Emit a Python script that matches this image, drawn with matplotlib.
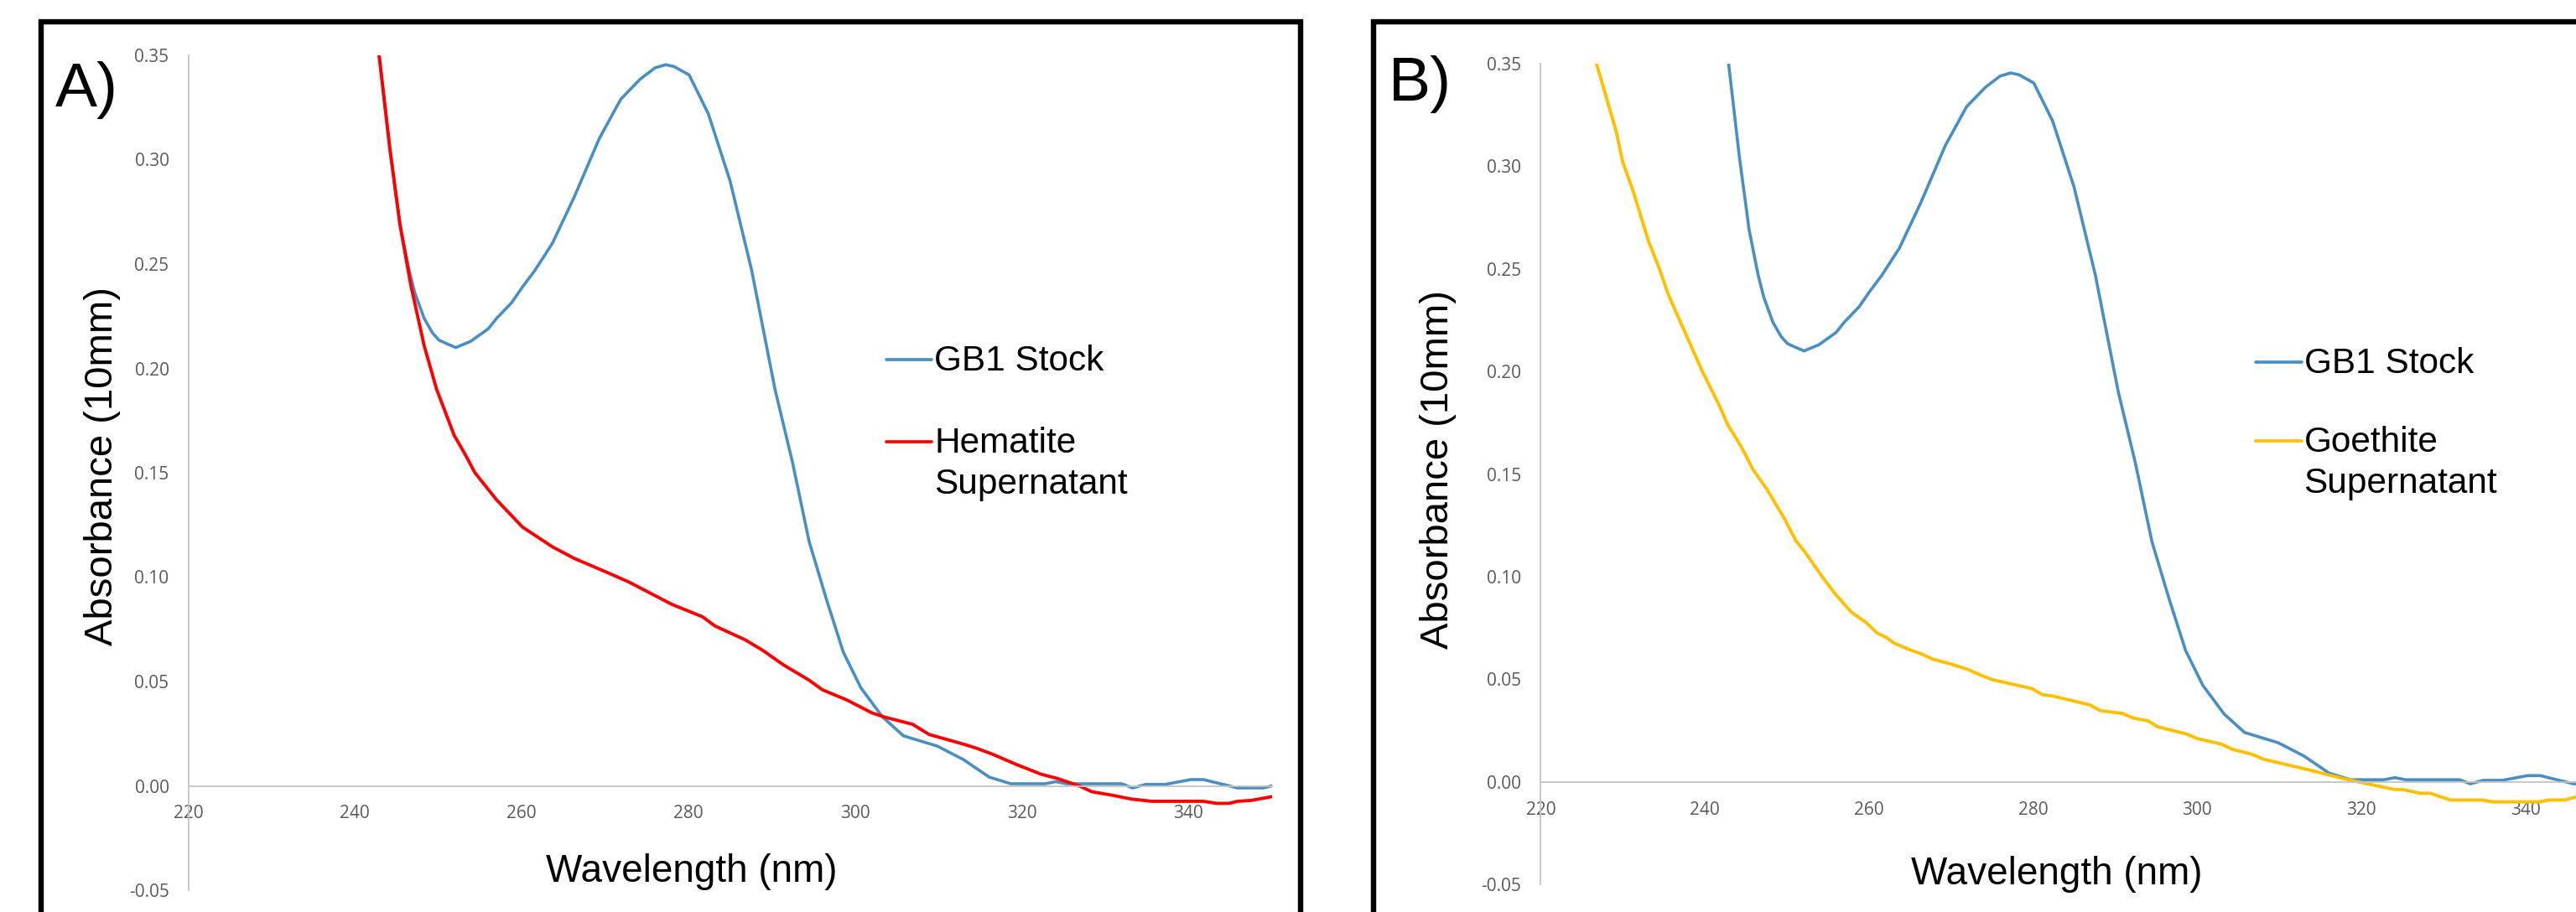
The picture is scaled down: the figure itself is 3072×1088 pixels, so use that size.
import matplotlib.pyplot as plt
from matplotlib.lines import Line2D
from matplotlib.patches import Rectangle

W, H = 3072, 1088

# GB1 stock spectrum (same sample in both panels)
gb1_wl = [242.9, 244.2, 245.4, 246.5, 247.2, 248.3, 249.3, 250.1, 251.1, 252.1,
          253.9, 256.0, 257.0, 258.8, 260.1, 261.6, 263.7, 266.3, 269.3, 271.9,
          274.2, 276.0, 277.3, 278.3, 280.1, 282.4, 285.0, 287.6, 290.4, 292.5,
          294.5, 296.6, 298.6, 300.7, 303.3, 305.8, 309.9, 313.0, 316.1, 318.7,
          322.8, 324.1, 325.4, 332.0, 333.3, 334.9, 337.2, 340.3, 341.8, 345.9,
          349.0, 350.0]
gb1_abs = [0.350, 0.305, 0.269, 0.247, 0.236, 0.224, 0.217, 0.2135, 0.2117, 0.210,
           0.213, 0.219, 0.224, 0.2315, 0.239, 0.247, 0.260, 0.282, 0.310, 0.329,
           0.3385, 0.344, 0.3455, 0.3446, 0.3406, 0.322, 0.290, 0.247, 0.190, 0.155,
           0.117, 0.089, 0.064, 0.047, 0.033, 0.024, 0.019, 0.0126, 0.0042, 0.001,
           0.001, 0.002, 0.001, 0.001, -0.001, 0.0007, 0.0007, 0.003, 0.003, -0.001,
           -0.001, 0.0]

# Hematite supernatant (panel A)
hem_wl = [242.9, 244.2, 245.4, 246.7, 248.3, 249.8, 251.9, 253.2, 254.4, 257.0,
          260.1, 263.7, 266.3, 270.4, 272.9, 278.0, 281.7, 283.2, 286.8, 288.9,
          291.4, 294.5, 296.1, 299.1, 302.0, 303.5, 306.9, 308.9, 313.0, 314.6,
          316.6, 319.2, 322.3, 324.3, 326.9, 328.4, 331.0, 333.1, 335.6, 341.8,
          343.4, 344.9, 345.9, 347.5, 350.0]
hem_abs = [0.350, 0.305, 0.269, 0.240, 0.211, 0.190, 0.168, 0.159, 0.150, 0.137,
           0.124, 0.1145, 0.109, 0.102, 0.0976, 0.087, 0.081, 0.0766, 0.070, 0.065,
           0.058, 0.0506, 0.046, 0.041, 0.035, 0.033, 0.0295, 0.0246, 0.020, 0.018,
           0.015, 0.0105, 0.0056, 0.0035, 0.0, -0.0028, -0.0046, -0.0063, -0.0074, -0.0074,
           -0.0084, -0.0084, -0.0074, -0.007, -0.0052]

# Goethite supernatant (panel B)
goe_wl = [226.8, 229.2, 230.0, 231.3, 232.1, 233.1, 234.5, 235.5, 237.1, 239.7,
          241.7, 242.8, 244.4, 245.9, 247.5, 249.6, 251.1, 252.2, 254.3, 255.8,
          257.9, 259.7, 261.0, 262.1, 263.1, 265.2, 266.3, 267.8, 269.9, 272.1,
          273.3, 275.1, 279.9, 281.1, 282.4, 286.9, 288.2, 290.9, 292.2, 294.0,
          295.2, 298.7, 300.0, 303.0, 304.3, 306.8, 308.0, 313.6, 317.6, 319.6,
          321.6, 324.1, 325.1, 327.2, 328.4, 330.9, 334.7, 336.0, 341.8, 342.8,
          344.8, 346.2, 350.0]
goe_abs = [0.350, 0.317, 0.302, 0.2875, 0.277, 0.264, 0.2496, 0.238, 0.2234, 0.200,
           0.184, 0.174, 0.1636, 0.152, 0.143, 0.129, 0.1175, 0.112, 0.100, 0.092,
           0.0825, 0.0775, 0.0725, 0.0704, 0.0675, 0.064, 0.0625, 0.0597, 0.0575, 0.0547,
           0.0525, 0.0497, 0.0454, 0.0425, 0.0418, 0.0375, 0.0347, 0.0333, 0.0311, 0.0297,
           0.0268, 0.0233, 0.0211, 0.0183, 0.0158, 0.0133, 0.0111, 0.0058, 0.0018, 0.0,
           -0.0017, -0.0038, -0.0038, -0.0056, -0.0056, -0.0089, -0.0089, -0.0098, -0.0098, -0.0089,
           -0.0089, -0.0074, -0.006]

x_ticks = [220, 240, 260, 280, 300, 320, 340]
y_ticks = [-0.05, 0.0, 0.05, 0.10, 0.15, 0.20, 0.25, 0.30, 0.35]

BLUE = "#4A8FC1"
RED = "#FF0000"
GOLD = "#FFC000"
AXIS_GREY = "#C4C4C4"
TICK_GREY = "#595959"
LABEL_FONT = "Liberation Sans"
TICK_FONT = "Open Sans"

plt.rcParams["axes.unicode_minus"] = False

fig = plt.figure(figsize=(W / 100, H / 100), dpi=100)


def fx(x):
    return x / W


def fy(y):
    return 1 - y / H


def make_axes(left, top, right, bottom):
    ax = fig.add_axes([fx(left), fy(bottom), (right - left) / W, (bottom - top) / H])
    ax.set_xlim(220, 350)
    ax.set_ylim(-0.05, 0.35)
    ax.set_xticks(x_ticks)
    ax.set_yticks(y_ticks)
    ax.set_yticklabels([f"{v:.2f}" for v in y_ticks])
    for s in ["top", "right"]:
        ax.spines[s].set_visible(False)
    ax.spines["bottom"].set_position(("data", 0))
    for s in ["left", "bottom"]:
        ax.spines[s].set_color(AXIS_GREY)
        ax.spines[s].set_linewidth(1.3)
    ax.tick_params(length=0, pad=16.5, labelsize=15, labelcolor=TICK_GREY)
    for lab in ax.get_xticklabels() + ax.get_yticklabels():
        lab.set_fontfamily(TICK_FONT)
    ax.patch.set_alpha(0)
    return ax


def frame(left, right, top):
    fig.add_artist(Rectangle((fx(left), -0.2), fx(right) - fx(left), fy(top) + 0.2,
                             transform=fig.transFigure, fill=False,
                             edgecolor="black", linewidth=4.6, clip_on=False))


def legend_entry(x0, x1, y_line, y_base, color, lines):
    fig.add_artist(Line2D([fx(x0), fx(x1)], [fy(y_line), fy(y_line)],
                          transform=fig.transFigure, color=color, linewidth=2.7,
                          solid_capstyle="round"))
    for i, txt in enumerate(lines):
        fig.text(fx(x1 + 3), fy(y_base + 49 * i), txt, ha="left", va="baseline",
                 fontsize=30.5, family=LABEL_FONT, color="black")


# ---- panel A ----
frame(48.5, 1551, 26)
axA = make_axes(224.5, 66, 1516.6, 1062)
axA.plot(gb1_wl, gb1_abs, color=BLUE, linewidth=2.6, solid_joinstyle="round")
axA.plot(hem_wl, hem_abs, color=RED, linewidth=2.8, solid_joinstyle="round")
fig.text(fx(66), fy(127), "A)", ha="left", va="baseline", fontsize=54, family=LABEL_FONT)
fig.text(fx(122), fy(556), "Absorbance (10mm)", rotation=90, ha="center", va="center",
         fontsize=34, family=LABEL_FONT)
fig.text(fx(825), fy(1052), "Wavelength (nm)", ha="center", va="baseline",
         fontsize=33, family=LABEL_FONT)
legend_entry(1057, 1111, 428.6, 442, BLUE, ["GB1 Stock"])
legend_entry(1057, 1111, 526.8, 540, RED, ["Hematite", "Supernatant"])

# ---- panel B (cut off at the right edge) ----
frame(1637.5, 3300, 26)
axB = make_axes(1837.4, 76, 1837.4 + 130 * 9.784, 1055)
axB.plot(gb1_wl, gb1_abs, color=BLUE, linewidth=2.6, solid_joinstyle="round")
axB.plot(goe_wl, goe_abs, color=GOLD, linewidth=2.8, solid_joinstyle="round")
fig.text(fx(1656), fy(120), "B)", ha="left", va="baseline", fontsize=54, family=LABEL_FONT)
fig.text(fx(1714.6), fy(560.5), "Absorbance (10mm)", rotation=90, ha="center", va="center",
         fontsize=34, family=LABEL_FONT)
fig.text(fx(2453), fy(1055), "Wavelength (nm)", ha="center", va="baseline",
         fontsize=33, family=LABEL_FONT)
legend_entry(2690.4, 2744.6, 432, 444.6, BLUE, ["GB1 Stock"])
legend_entry(2690.4, 2744.6, 526, 539, GOLD, ["Goethite", "Supernatant"])

fig.savefig("out.png", dpi=100)
